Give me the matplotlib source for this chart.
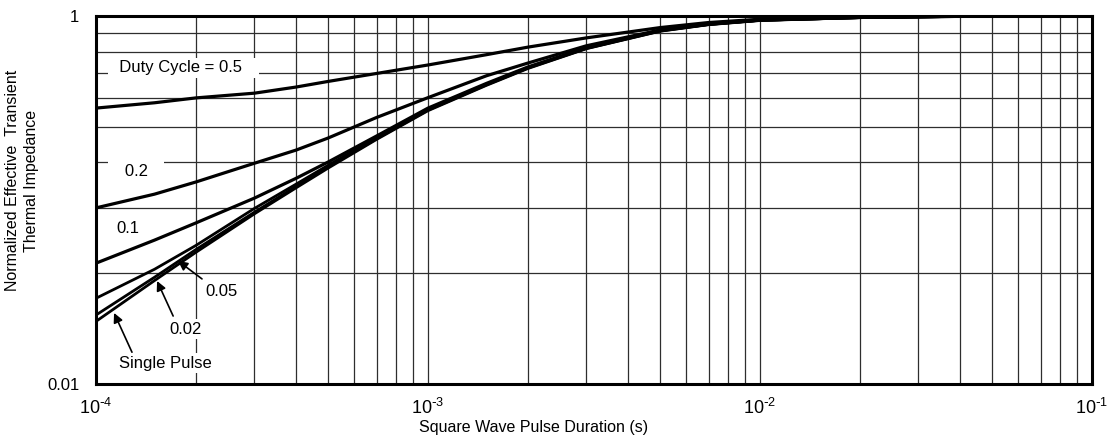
import numpy as np
import matplotlib.pyplot as plt
from matplotlib.ticker import FixedLocator, NullFormatter

plt.rcParams['font.family'] = ['Liberation Sans', 'DejaVu Sans']
narrow = ['Liberation Sans Narrow', 'Liberation Sans', 'DejaVu Sans']

# ================= DATA =================
# square wave pulse duration (s)
t_pulse = [1e-4, 1.5e-4, 2e-4, 3e-4, 4e-4, 5e-4, 7e-4, 1e-3, 1.5e-3, 2e-3,
           3e-3, 5e-3, 7e-3, 1e-2, 2e-2, 5e-2, 1e-1]

# normalized effective transient thermal impedance, one list per duty cycle
z_d50 = [0.562, 0.581, 0.599, 0.617, 0.641, 0.664, 0.698, 0.736, 0.785, 0.823,
         0.872, 0.930, 0.960, 0.980, 0.993, 1.0, 1.0]
z_d20 = [0.301, 0.328, 0.354, 0.398, 0.432, 0.466, 0.530, 0.600, 0.688, 0.745,
         0.830, 0.916, 0.952, 0.975, 0.991, 1.0, 1.0]
z_d10 = [0.213, 0.246, 0.274, 0.320, 0.362, 0.401, 0.472, 0.562, 0.656, 0.727,
         0.820, 0.914, 0.950, 0.975, 0.991, 1.0, 1.0]
z_d05 = [0.171, 0.205, 0.238, 0.300, 0.349, 0.393, 0.467, 0.558, 0.652, 0.724,
         0.818, 0.912, 0.949, 0.974, 0.990, 1.0, 1.0]
z_d02 = [0.154, 0.195, 0.232, 0.293, 0.344, 0.389, 0.464, 0.555, 0.650, 0.722,
         0.816, 0.910, 0.948, 0.973, 0.990, 1.0, 1.0]
z_single = [0.148, 0.191, 0.228, 0.290, 0.341, 0.386, 0.462, 0.553, 0.648,
            0.720, 0.815, 0.909, 0.947, 0.972, 0.990, 1.0, 1.0]

x_ticks = [1e-4, 1e-3, 1e-2, 1e-1]
x_ticklabels = [r'$\mathregular{10^{\text{-}4}}$', r'$\mathregular{10^{\text{-}3}}$',
                r'$\mathregular{10^{\text{-}2}}$', r'$\mathregular{10^{\text{-}1}}$']
y_ticks = [0.1, 1.0]
y_ticklabels = ['0.01', '1']

# ================= PLOT =================
fig = plt.figure(figsize=(11.13, 4.43), dpi=100)
ax = fig.add_axes([0.0863, 0.1332, 0.8948, 0.8307])

for z, lw in [(z_d50, 2.3), (z_d20, 2.3), (z_d10, 2.3),
              (z_d05, 2.0), (z_d02, 2.0), (z_single, 2.0)]:
    ax.plot(t_pulse, z, color='black', lw=lw, zorder=4,
            solid_capstyle='butt', solid_joinstyle='round')

ax.set_xscale('log')
ax.set_yscale('log')
ax.set_xlim(1e-4, 1e-1)
ax.set_ylim(0.1, 1.0)

ax.xaxis.set_major_locator(FixedLocator(x_ticks))
ax.set_xticklabels(x_ticklabels, family=narrow, fontsize=13)
ax.xaxis.set_minor_locator(FixedLocator(
    [m * 10.0 ** e for e in (-4, -3, -2) for m in range(2, 10)]))
ax.xaxis.set_minor_formatter(NullFormatter())

ax.yaxis.set_major_locator(FixedLocator(y_ticks))
ax.set_yticklabels(y_ticklabels, fontsize=12)
ax.yaxis.set_minor_locator(FixedLocator([m / 10 for m in range(2, 10)]))
ax.yaxis.set_minor_formatter(NullFormatter())

ax.tick_params(which='both', length=0)
ax.tick_params(axis='y', pad=12)
ax.tick_params(axis='x', pad=10)
ax.grid(which='both', color='#2e2e2e', lw=0.9, zorder=1)
ax.set_axisbelow(True)
for s in ax.spines.values():
    s.set_linewidth(2.2)
    s.set_zorder(6)

ax.set_xlabel('Square Wave Pulse Duration (s)', family=narrow, fontsize=11.5)
ax.xaxis.set_label_coords(0.439, -0.097)
ax.set_ylabel('Normalized Effective  Transient\nThermal Impedance',
              fontsize=11.5, linespacing=1.35)
ax.yaxis.set_label_coords(-0.057, 0.552)

# curve labels
white = dict(facecolor='white', edgecolor='none', boxstyle='square,pad=0.15')
ax.text(1.83e-4, 0.724, '  Duty Cycle = 0.5   ', fontsize=12, ha='center',
        va='center', bbox=white, zorder=3)
ax.text(1.32e-4, 0.379, '   0.2   ', fontsize=12, ha='center', va='center',
        bbox=white, zorder=3)
ax.text(1.249e-4, 0.264, '0.1', fontsize=12, ha='center', va='center', zorder=3)
ax.text(2.38e-4, 0.178, '0.05', fontsize=12, ha='center', va='center', zorder=3)
ax.text(1.866e-4, 0.141, '0.02', fontsize=12, ha='center', va='center',
        bbox=white, zorder=3)
ax.text(1.614e-4, 0.114, 'Single Pulse', fontsize=12, ha='center', va='center',
        bbox=white, zorder=3)

arrow = dict(arrowstyle='-|>', color='black', lw=1.2, mutation_scale=14,
             shrinkA=0, shrinkB=0)
for head, tail in [((1.766e-4, 0.216), (2.085e-4, 0.193)),
                   ((1.527e-4, 0.1905), (1.707e-4, 0.153)),
                   ((1.133e-4, 0.156), (1.283e-4, 0.122))]:
    ax.annotate('', xy=head, xytext=tail, arrowprops=arrow, zorder=5)

plt.savefig('out.png', dpi=100)
plt.close()
